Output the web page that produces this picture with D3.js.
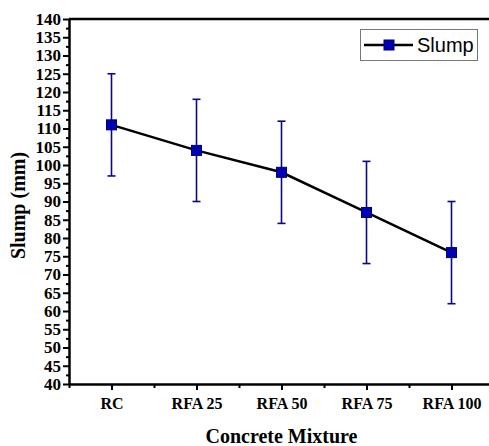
<!DOCTYPE html>
<html>
<head>
<meta charset="utf-8">
<script src="https://cdn.jsdelivr.net/npm/d3@7"></script>
<style>
  body { margin: 0; background: #fff; }
  svg { display: block; }
  .axis path, .axis line { stroke: #000; }
  .axis text { font-family: "Liberation Serif", "Times New Roman", serif; font-weight: bold; font-size: 16px; fill: #000; }
  .y-axis text { font-size: 17px; }
</style>
</head>
<body>
<div id="chart"></div>
<script>
// data
var mixtures = ["RC", "RFA 25", "RFA 50", "RFA 75", "RFA 100"];
var slump = [111, 104, 98, 87, 76];
var slumpErr = [14, 14, 14, 14, 14];
var yTicks = d3.range(40, 141, 5);

var width = 489, height = 446;
var margin = { top: 19, left: 69 };
var plotW = 425, plotH = 365;

var svg = d3.select("#chart").append("svg")
    .attr("width", width)
    .attr("height", height);

var g = svg.append("g")
    .attr("transform", "translate(" + margin.left + "," + margin.top + ")");

// scales
var x = d3.scalePoint()
    .domain(mixtures)
    .range([0, plotW])
    .padding(0.5);

var xMinor = d3.scaleLinear()
    .domain([-0.5, mixtures.length - 0.5])
    .range([0, plotW]);

var y = d3.scaleLinear()
    .domain([40, 140])
    .range([plotH, 0]);

// minor ticks first
g.append("g")
    .attr("class", "axis")
    .attr("transform", "translate(0," + plotH + ")")
    .call(d3.axisBottom(xMinor).tickValues(d3.range(-0.5, mixtures.length, 1)).tickSize(4).tickFormat(""))
    .call(function(a){ a.select(".domain").remove(); a.selectAll("line").attr("stroke-width", 2); });

g.append("g")
    .attr("class", "axis")
    .call(d3.axisLeft(y).tickValues(d3.range(42.5, 140, 5)).tickSize(3).tickFormat(""))
    .call(function(a){ a.select(".domain").remove(); a.selectAll("line").attr("stroke-width", 2); });

// major axes
var xAxisG = g.append("g")
    .attr("class", "axis x-axis")
    .attr("transform", "translate(0," + plotH + ")")
    .call(d3.axisBottom(x).tickSizeInner(6).tickSizeOuter(0).tickPadding(8));
xAxisG.select(".domain").attr("stroke-width", 2.5);
xAxisG.selectAll("line").attr("stroke-width", 2);

var yAxisG = g.append("g")
    .attr("class", "axis y-axis")
    .call(d3.axisLeft(y).tickValues(yTicks).tickSizeInner(6).tickSizeOuter(0).tickPadding(2));
yAxisG.select(".domain").attr("stroke-width", 2.5);
yAxisG.selectAll("line").attr("stroke-width", 2);

// top frame line
g.append("line")
    .attr("x1", 0).attr("x2", plotW)
    .attr("y1", 0).attr("y2", 0)
    .attr("stroke", "#000")
    .attr("stroke-width", 2.5);

// axis titles
svg.append("text")
    .attr("x", margin.left + x("RFA 50"))
    .attr("y", 443)
    .attr("text-anchor", "middle")
    .style("font-family", "'Liberation Serif', 'Times New Roman', serif")
    .style("font-weight", "bold")
    .style("font-size", "20px")
    .text("Concrete Mixture");

svg.append("text")
    .attr("transform", "translate(25," + (margin.top + plotH / 2 + 4) + ") rotate(-90)")
    .attr("text-anchor", "middle")
    .style("font-family", "'Liberation Serif', 'Times New Roman', serif")
    .style("font-weight", "bold")
    .style("font-size", "20px")
    .text("Slump (mm)");

var points = mixtures.map(function(m, i){
    return { name: m, value: slump[i], err: slumpErr[i] };
});

// error bars
var errG = g.selectAll(".err").data(points).enter()
    .append("g")
    .attr("class", "err")
    .attr("stroke", "#0a0a80")
    .attr("stroke-width", 1.6);

errG.append("line")
    .attr("x1", function(d){ return x(d.name); })
    .attr("x2", function(d){ return x(d.name); })
    .attr("y1", function(d){ return y(d.value - d.err); })
    .attr("y2", function(d){ return y(d.value + d.err); });

errG.append("line")
    .attr("x1", function(d){ return x(d.name) - 4; })
    .attr("x2", function(d){ return x(d.name) + 4; })
    .attr("y1", function(d){ return y(d.value + d.err); })
    .attr("y2", function(d){ return y(d.value + d.err); });

errG.append("line")
    .attr("x1", function(d){ return x(d.name) - 4; })
    .attr("x2", function(d){ return x(d.name) + 4; })
    .attr("y1", function(d){ return y(d.value - d.err); })
    .attr("y2", function(d){ return y(d.value - d.err); });

// line
var valueLine = d3.line()
    .x(function(d){ return x(d.name); })
    .y(function(d){ return y(d.value); });

g.append("path")
    .datum(points)
    .attr("d", valueLine)
    .attr("fill", "none")
    .attr("stroke", "#000")
    .attr("stroke-width", 2.5);

// markers
g.selectAll(".dot").data(points).enter()
    .append("rect")
    .attr("class", "dot")
    .attr("x", function(d){ return x(d.name) - 5; })
    .attr("y", function(d){ return y(d.value) - 5; })
    .attr("width", 10)
    .attr("height", 10)
    .attr("fill", "#0000b4")
    .attr("stroke", "#00006e")
    .attr("stroke-width", 1);

// legend
var legend = svg.append("g").attr("transform", "translate(360,29)");
legend.append("rect")
    .attr("x", 0.5).attr("y", 0.5)
    .attr("width", 117).attr("height", 31)
    .attr("fill", "#fff")
    .attr("stroke", "#777")
    .attr("stroke-width", 1);
legend.append("line")
    .attr("x1", 4).attr("x2", 53)
    .attr("y1", 16).attr("y2", 16)
    .attr("stroke", "#000")
    .attr("stroke-width", 2.5);
legend.append("rect")
    .attr("x", 24).attr("y", 11)
    .attr("width", 10).attr("height", 10)
    .attr("fill", "#0000b4")
    .attr("stroke", "#00006e");
legend.append("text")
    .attr("x", 57).attr("y", 23)
    .style("font-family", "'Liberation Sans', Arial, sans-serif")
    .style("font-size", "20px")
    .text("Slump");
</script>
</body>
</html>
